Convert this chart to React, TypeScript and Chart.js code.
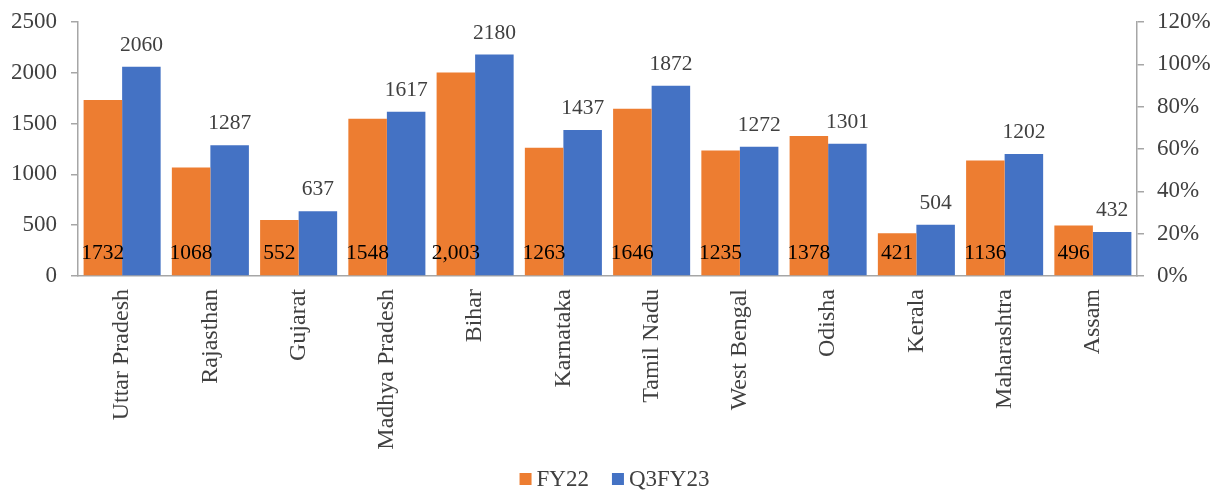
import React, { useEffect, useRef } from "react";
import { Chart, registerables } from "chart.js";

Chart.register(...registerables);

const categories = [
  "Uttar Pradesh",
  "Rajasthan",
  "Gujarat",
  "Madhya Pradesh",
  "Bihar",
  "Karnataka",
  "Tamil Nadu",
  "West Bengal",
  "Odisha",
  "Kerala",
  "Maharashtra",
  "Assam",
];
const fy22 = [1732, 1068, 552, 1548, 2003, 1263, 1646, 1235, 1378, 421, 1136, 496];
const fy22Text = ["1732", "1068", "552", "1548", "2,003", "1263", "1646", "1235", "1378", "421", "1136", "496"];
const q3fy23 = [2060, 1287, 637, 1617, 2180, 1437, 1872, 1272, 1301, 504, 1202, 432];
const seriesNames = ["FY22", "Q3FY23"];
const seriesColors = ["#ED7D31", "#4472C4"];

const FONT = "'Liberation Serif', 'Times New Roman', serif";
const TEXT = "#404040";
const AXIS = "#A6A6A6";

const labelsPlugin = {
  id: "barLabels",
  afterDatasetsDraw(chart: any) {
    const ctx = chart.ctx;
    const area = chart.chartArea;
    ctx.save();
    ctx.font = `21.5px ${FONT}`;
    ctx.textAlign = "center";
    ctx.textBaseline = "alphabetic";
    const m0 = chart.getDatasetMeta(0);
    m0.data.forEach((el: any, i: number) => {
      ctx.fillStyle = "#000000";
      ctx.fillText(fy22Text[i], el.x, area.bottom - 17);
    });
    const m1 = chart.getDatasetMeta(1);
    m1.data.forEach((el: any, i: number) => {
      ctx.fillStyle = TEXT;
      ctx.fillText(String(q3fy23[i]), el.x, el.y - 16);
    });
    ctx.restore();
  },
};

const legendPlugin = {
  id: "customLegend",
  afterDraw(chart: any) {
    const ctx = chart.ctx;
    ctx.save();
    ctx.font = `23px ${FONT}`;
    ctx.textBaseline = "middle";
    ctx.textAlign = "left";
    const box = 12;
    const gap = 5;
    const itemGap = 23;
    const widths = seriesNames.map((n) => box + gap + ctx.measureText(n).width);
    const total = widths.reduce((a, b) => a + b, 0) + itemGap * (seriesNames.length - 1);
    let x = chart.width / 2 - total / 2 + 6;
    const y = 479;
    seriesNames.forEach((n, i) => {
      ctx.fillStyle = seriesColors[i];
      ctx.fillRect(x, y - 6, box, box);
      ctx.fillStyle = TEXT;
      ctx.fillText(n, x + box + gap, y + 1);
      x += widths[i] + itemGap;
    });
    ctx.restore();
  },
};

export default function App() {
  const ref = useRef<HTMLCanvasElement | null>(null);
  useEffect(() => {
    document.body.style.margin = "0";
    const canvas = ref.current!;
    const chart = new Chart(canvas, {
      type: "bar",
      data: {
        labels: categories,
        datasets: [
          {
            label: seriesNames[0],
            data: fy22,
            backgroundColor: seriesColors[0],
            yAxisID: "y",
          },
          {
            label: seriesNames[1],
            data: q3fy23,
            backgroundColor: seriesColors[1],
            yAxisID: "y",
          },
        ],
      },
      options: {
        responsive: false,
        animation: false,
        devicePixelRatio: 1,
        layout: { padding: { top: 22, left: 0, right: 0, bottom: 0 } },
        datasets: {
          bar: { categoryPercentage: 0.873, barPercentage: 1 },
        },
        plugins: {
          legend: { display: false },
          tooltip: { enabled: false },
        },
        scales: {
          x: {
            grid: { display: false, drawTicks: false },
            border: { display: true, color: AXIS, width: 1.5 },
            ticks: {
              minRotation: 90,
              maxRotation: 90,
              autoSkip: false,
              padding: 13,
              color: TEXT,
              font: { family: FONT, size: 24 },
            },
            afterFit(scale: any) {
              scale.height = 215;
              scale.paddingLeft = 0;
              scale.paddingRight = 0;
            },
          },
          y: {
            position: "left",
            min: 0,
            max: 2500,
            grid: { drawOnChartArea: false, drawTicks: true, tickLength: 7, color: AXIS, lineWidth: 1.5 },
            border: { display: true, color: AXIS, width: 1.5 },
            ticks: {
              stepSize: 500,
              padding: 14,
              color: TEXT,
              font: { family: FONT, size: 23 },
              callback: (v: any) => String(v),
            },
            afterFit(scale: any) {
              scale.width = 78;
              scale.paddingTop = 0;
              scale.paddingBottom = 0;
            },
          },
          y1: {
            position: "right",
            min: 0,
            max: 1.2,
            grid: { drawOnChartArea: false, drawTicks: true, tickLength: 7, color: AXIS, lineWidth: 1.5 },
            border: { display: true, color: AXIS, width: 1.5 },
            ticks: {
              stepSize: 0.2,
              padding: 13,
              color: TEXT,
              font: { family: FONT, size: 23 },
              callback: (v: any) => Math.round(Number(v) * 100) + "%",
            },
            afterFit(scale: any) {
              scale.width = 80;
              scale.paddingTop = 0;
              scale.paddingBottom = 0;
            },
          },
        },
      },
      plugins: [labelsPlugin, legendPlugin],
    });
    return () => chart.destroy();
  }, []);
  return <canvas ref={ref} width={1217} height={491} style={{ display: "block" }} />;
}
